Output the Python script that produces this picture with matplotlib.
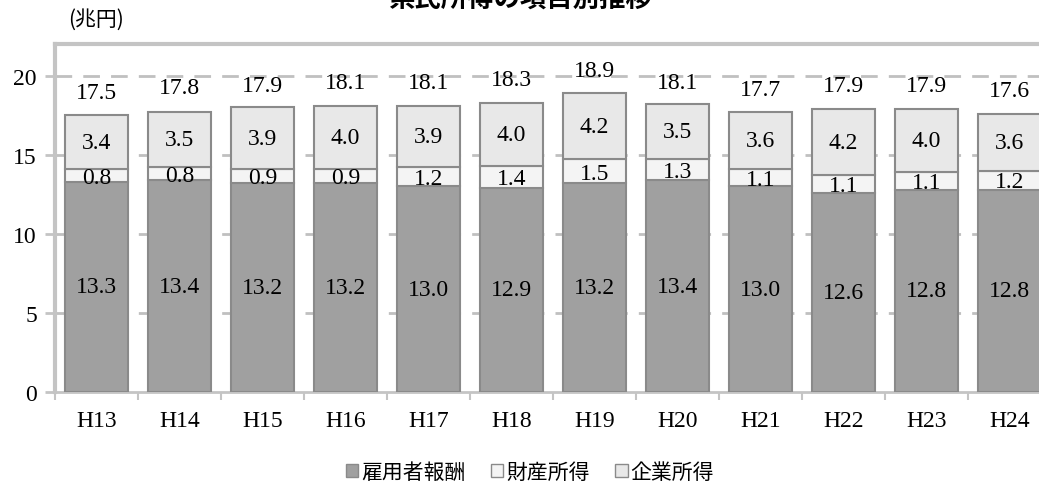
import numpy as np
import matplotlib.pyplot as plt
from matplotlib.patches import Patch

plt.rcParams['font.family'] = ['Liberation Serif', 'Noto Sans CJK JP']

# データ（兆円）
years = ['H13', 'H14', 'H15', 'H16', 'H17', 'H18', 'H19', 'H20', 'H21', 'H22', 'H23', 'H24']
koyo = [13.3, 13.4, 13.2, 13.2, 13.0, 12.9, 13.2, 13.4, 13.0, 12.6, 12.8, 12.8]
zaisan = [0.8, 0.8, 0.9, 0.9, 1.2, 1.4, 1.5, 1.3, 1.1, 1.1, 1.1, 1.2]
kigyo = [3.4, 3.5, 3.9, 4.0, 3.9, 4.0, 4.2, 3.5, 3.6, 4.2, 4.0, 3.6]
total = [17.5, 17.8, 17.9, 18.1, 18.1, 18.3, 18.9, 18.1, 17.7, 17.9, 17.9, 17.6]

series_names = ['雇用者報酬', '財産所得', '企業所得']
colors = ['#a0a0a0', '#f4f4f4', '#e8e8e8']
edge = '#8a8a8a'
axis_gray = '#c4c4c4'

fig = plt.figure(figsize=(10.39, 4.85), dpi=100)
ax = fig.add_axes([55 / 1039, 92 / 485, 996 / 1039, 348 / 485])

x = np.arange(len(years))
w = 0.75
ax.bar(x, koyo, w, color=colors[0], edgecolor=edge, linewidth=1.5, zorder=3)
ax.bar(x, zaisan, w, bottom=koyo, color=colors[1], edgecolor=edge, linewidth=1.5, zorder=3)
bot3 = np.array(koyo) + np.array(zaisan)
ax.bar(x, kigyo, w, bottom=bot3, color=colors[2], edgecolor=edge, linewidth=1.5, zorder=3)

fs = 17
for i in range(len(years)):
    ax.text(x[i], koyo[i] / 2, f'{koyo[i]:.1f}', ha='center', va='center', fontsize=fs, zorder=4)
    ax.text(x[i], koyo[i] + zaisan[i] / 2 - 0.12, f'{zaisan[i]:.1f}', ha='center', va='center',
            fontsize=fs, zorder=4)
    ax.text(x[i], bot3[i] + kigyo[i] / 2, f'{kigyo[i]:.1f}', ha='center', va='center', fontsize=fs, zorder=4)
    ax.text(x[i], total[i] + 1.45, f'{total[i]:.1f}', ha='center', va='center', fontsize=fs, zorder=4)

ax.set_xlim(-0.5, len(years) - 0.5)
ax.set_ylim(0, 22)
ax.set_yticks([0, 5, 10, 15, 20])
ax.set_xticks(x)
ax.set_xticklabels(years)
ax.set_xticks(np.arange(-0.5, len(years), 1), minor=True)
ax.tick_params(axis='x', which='major', length=0, labelsize=fs, pad=13)
ax.tick_params(axis='x', which='minor', length=6, width=1.5, color=axis_gray)
ax.tick_params(axis='y', length=7, width=2, color=axis_gray, labelsize=fs, pad=6)

for y in [5, 10, 15, 20]:
    ax.axhline(y, color='#c0c0c0', linewidth=2, dashes=(6, 4), zorder=1)

ax.spines['right'].set_visible(False)
for s in ['left', 'top']:
    ax.spines[s].set_color(axis_gray)
    ax.spines[s].set_linewidth(3)
ax.spines['bottom'].set_color(axis_gray)
ax.spines['bottom'].set_linewidth(2)

fig.text(0.5, 1.0, '県民所得の項目別推移', ha='center', va='center', fontsize=19,
         fontweight='bold', family=['Noto Sans CJK JP'])
fig.text(68 / 1039, 1 - 20 / 485, '(兆円)', ha='left', va='center', fontsize=15,
         family=['Noto Sans CJK JP'])

handles = [Patch(facecolor=c, edgecolor=edge, linewidth=1) for c in colors]
fig.legend(handles, series_names, loc='center', bbox_to_anchor=(530 / 1039, 1 - 473 / 485), ncol=3,
           frameon=False, handlelength=0.6, handleheight=0.6, handletextpad=0.15, columnspacing=1.2,
           borderpad=0, prop={'family': 'Noto Sans CJK JP', 'size': 15})

fig.savefig('out.png', dpi=100)
